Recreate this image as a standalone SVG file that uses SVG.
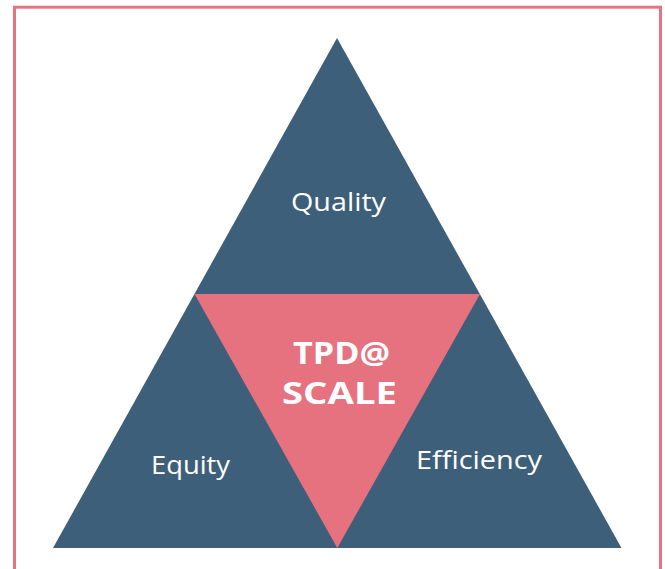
<svg xmlns="http://www.w3.org/2000/svg" width="665" height="569" viewBox="0 0 665 569">
<style>
.dark{fill:#3d5f7a}
.pink{fill:#e6727f}
.lbl{font-family:"Open Sans","Liberation Sans",sans-serif;font-size:26px;fill:#ffffff;font-variant-ligatures:none}
.bold{font-family:"Open Sans","Liberation Sans",sans-serif;font-size:30px;font-weight:bold;fill:#ffffff}
</style>
<rect x="14.5" y="7.2" width="646" height="580" fill="#ffffff" stroke="#e8727f" stroke-width="3"/>
<g id="outer">
<polygon class="dark" points="337,38 53,548 621.5,548"/>
</g>
<g id="quality">
<text class="lbl" x="291" y="210.7" textLength="95" lengthAdjust="spacingAndGlyphs">Quality</text>
</g>
<g id="equity">
<text class="lbl" x="151" y="474" textLength="79" lengthAdjust="spacingAndGlyphs">Equity</text>
</g>
<g id="efficiency">
<text class="lbl" x="416" y="469.3" textLength="126" lengthAdjust="spacingAndGlyphs">Efficiency</text>
</g>
<g id="center">
<polygon class="pink" points="194.5,294 480,294 337.3,548"/>
<text class="bold" x="293" y="364" textLength="97" lengthAdjust="spacingAndGlyphs">TPD@</text>
<text class="bold" x="282" y="404" textLength="115" lengthAdjust="spacingAndGlyphs">SCALE</text>
</g>
<g id="connectors"/>
</svg>
